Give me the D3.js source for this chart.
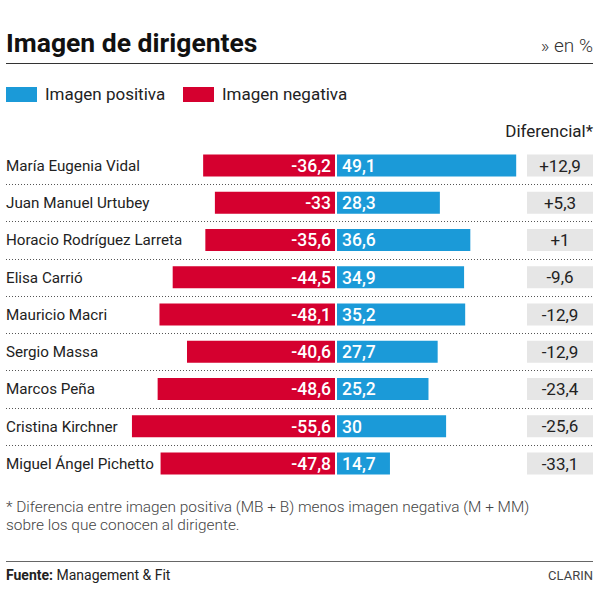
<!DOCTYPE html>
<html><head><meta charset="utf-8">
<script src="https://cdn.jsdelivr.net/npm/d3@7"></script>
<style>
html,body{margin:0;padding:0;background:#fff;}
svg{display:block;font-family:Roboto,"Noto Sans",sans-serif;}
</style></head>
<body><svg id="c" width="600" height="608"></svg>
<script>
const names = ["María Eugenia Vidal","Juan Manuel Urtubey","Horacio Rodríguez Larreta","Elisa Carrió","Mauricio Macri","Sergio Massa","Marcos Peña","Cristina Kirchner","Miguel Ángel Pichetto"];
const negativa = [-36.2,-33,-35.6,-44.5,-48.1,-40.6,-48.6,-55.6,-47.8];
const positiva = [49.1,28.3,36.6,34.9,35.2,27.7,25.2,30,14.7];
const diferencial = [12.9,5.3,1,-9.6,-12.9,-12.9,-23.4,-25.6,-33.1];
const legendLabels = ["Imagen positiva","Imagen negativa"];

const BLUE = "#1b9ad8", RED = "#d5002f", GRAY = "#e6e6e6", INK = "#222";
const svg = d3.select("#c");
const fmt = v => String(v).replace(".", ",");
const fmtDiff = v => (v > 0 ? "+" : "") + fmt(v);

// Header
svg.append("text").attr("x",6).attr("y",52).attr("font-size",26.5).attr("font-weight","bold").attr("fill","#111").text("Imagen de dirigentes");
svg.append("text").attr("x",593).attr("y",52).attr("text-anchor","end").attr("font-size",19).attr("font-weight",300).attr("fill","#333").text("» en %");
svg.append("line").attr("x1",6).attr("x2",593).attr("y1",63.5).attr("y2",63.5).attr("stroke","#333").attr("stroke-width",1.2);

// Legend
const legX = [6,183];
legendLabels.forEach((l,i)=>{
  svg.append("rect").attr("x",legX[i]).attr("y",87).attr("width",31).attr("height",15).attr("fill", i===0?BLUE:RED);
  svg.append("text").attr("x",legX[i]+39).attr("y",100).attr("font-size",17).attr("fill",INK).text(l);
});

svg.append("text").attr("x",593).attr("y",137).attr("text-anchor","end").attr("font-size",17).attr("fill",INK).text("Diferencial*");

// Scales
const y = d3.scalePoint().domain(names).range([165.5,463.5]);
const x = d3.scaleLinear().domain([-60,60]).range([336-3.67*60, 336+3.67*60]);
const bh = 22;
const step = y.step();

// dotted separators
const g = svg.append("g");
g.selectAll("line.sep").data(names.slice(0,-1)).join("line")
  .attr("x1",6).attr("x2",592)
  .attr("y1",d=>Math.round(y(d)+step/2)+0.5).attr("y2",d=>Math.round(y(d)+step/2)+0.5)
  .attr("stroke","#555").attr("stroke-width",1).attr("stroke-dasharray","1,2");

// names
g.selectAll("text.name").data(names).join("text")
  .attr("x",6).attr("y",d=>y(d)).attr("dy","0.35em").attr("font-size",15.2).attr("fill",INK).text(d=>d);

// red bars
g.selectAll("rect.neg").data(names).join("rect")
  .attr("x",(d,i)=>x(negativa[i])).attr("y",d=>y(d)-bh/2)
  .attr("width",(d,i)=>x(0)-1-x(negativa[i])).attr("height",bh).attr("fill",RED);
// blue bars
g.selectAll("rect.pos").data(names).join("rect")
  .attr("x",x(0)+1).attr("y",d=>y(d)-bh/2)
  .attr("width",(d,i)=>x(positiva[i])-x(0)-1).attr("height",bh).attr("fill",BLUE);

// value labels
g.selectAll("text.neg").data(names).join("text")
  .attr("x",x(0)-5).attr("y",d=>y(d)).attr("dy","0.36em").attr("text-anchor","end")
  .attr("font-size",17.5).attr("font-weight",500).attr("fill","#fff").text((d,i)=>fmt(negativa[i]));
g.selectAll("text.pos").data(names).join("text")
  .attr("x",x(0)+6).attr("y",d=>y(d)).attr("dy","0.36em")
  .attr("font-size",17.5).attr("font-weight",500).attr("fill","#fff").text((d,i)=>fmt(positiva[i]));

// diferencial boxes
g.selectAll("rect.diff").data(names).join("rect")
  .attr("x",527).attr("y",d=>y(d)-bh/2).attr("width",66).attr("height",bh).attr("fill",GRAY);
g.selectAll("text.diff").data(names).join("text")
  .attr("x",560).attr("y",d=>y(d)).attr("dy","0.36em").attr("text-anchor","middle")
  .attr("font-size",17).attr("fill",INK).text((d,i)=>fmtDiff(diferencial[i]));

// footnote
const fn = ["* Diferencia entre imagen positiva (MB + B) menos imagen negativa (M + MM)","sobre los que conocen al dirigente."];
fn.forEach((t,i)=>svg.append("text").attr("x",6).attr("y",512+i*18).attr("font-size",15.4).attr("font-weight",300).attr("fill","#444").text(t));

svg.append("line").attr("x1",6).attr("x2",593).attr("y1",561.5).attr("y2",561.5).attr("stroke","#666").attr("stroke-width",1);
const src = svg.append("text").attr("x",6).attr("y",580).attr("font-size",14).attr("fill",INK);
src.append("tspan").attr("font-weight","bold").text("Fuente:");
src.append("tspan").text(" Management & Fit");
svg.append("text").attr("x",593).attr("y",580).attr("text-anchor","end").attr("font-size",13).attr("fill","#444").text("CLARIN");
</script></body></html>
